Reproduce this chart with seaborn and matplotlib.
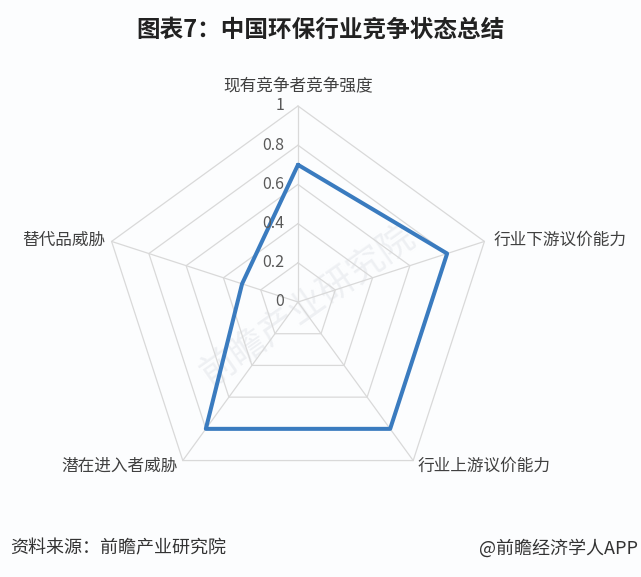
import numpy as np
import matplotlib
matplotlib.use("Agg")
import matplotlib.pyplot as plt
import seaborn as sns

# 数据
categories = ["现有竞争者竞争强度", "行业下游议价能力", "行业上游议价能力", "潜在进入者威胁", "替代品威胁"]
values = [0.7, 0.8, 0.8, 0.8, 0.3]
levels = [0.2, 0.4, 0.6, 0.8, 1.0]
tick_labels = ["0", "0.2", "0.4", "0.6", "0.8", "1"]
tick_values = [0, 0.2, 0.4, 0.6, 0.8, 1.0]

sns.set_theme(style="white")
plt.rcParams['font.family'] = ['Noto Sans CJK SC', 'DejaVu Sans']

W, H = 641, 577
cx, cy, R = 298, 302, 196  # 像素: 中心与半径
bg = "#fcfdfe"

fig = plt.figure(figsize=(W / 100, H / 100), dpi=100, facecolor=bg)
ax = fig.add_axes([0, 0, 1, 1])
ax.set_facecolor(bg)
ax.set_xlim(-cx / R, (W - cx) / R)
ax.set_ylim(-(H - cy) / R, cy / R)
ax.set_aspect("equal")
ax.axis("off")

n = len(categories)
ang = np.pi / 2 - np.arange(n) * 2 * np.pi / n
ux, uy = np.cos(ang), np.sin(ang)

# 网格
for lv in levels:
    ax.plot(np.append(ux, ux[0]) * lv, np.append(uy, uy[0]) * lv,
            color="#d9d9d9", lw=0.9, zorder=1)
for i in range(n):
    ax.plot([0, ux[i]], [0, uy[i]], color="#d9d9d9", lw=0.9, zorder=1)

# 水印
ax.text(0.05, -0.02, "前瞻产业研究院", fontsize=26, color="#eef0f3",
        rotation=35, ha="center", va="center", zorder=0)

# 数据线
v = np.array(values)
px = np.append(ux * v, ux[0] * v[0])
py = np.append(uy * v, uy[0] * v[0])
sns.lineplot(x=px, y=py, sort=False, estimator=None, ax=ax,
             color="#3a7bbf", lw=2.9, zorder=3)
ax.get_legend() and ax.get_legend().remove()

# 刻度标签
for t, lab in zip(tick_values, tick_labels):
    ax.text(-0.07, t, lab, ha="right", va="center", fontsize=11.5,
            color="#595959", zorder=4)

# 类别标签
lab_fs = 12
ax.text(0, 1.10, categories[0], ha="center", va="center", fontsize=lab_fs, color="#404040")
ax.text(1.0, uy[1] + 0.005, categories[1], ha="left", va="center", fontsize=lab_fs, color="#404040")
ax.text(0.612, uy[2] - 0.03, categories[2], ha="left", va="center", fontsize=lab_fs, color="#404040")
ax.text(-0.615, uy[3] - 0.03, categories[3], ha="right", va="center", fontsize=lab_fs, color="#404040")
ax.text(-0.985, uy[4] + 0.005, categories[4], ha="right", va="center", fontsize=lab_fs, color="#404040")

# 标题与脚注
fig.text(0.5, 1 - 30 / H, "图表7：中国环保行业竞争状态总结", ha="center", va="center",
         fontsize=17, fontweight="bold", color="#222222")
fig.text(10 / W, 1 - 548 / H, "资料来源：前瞻产业研究院", ha="left", va="center",
         fontsize=13, color="#333333")
fig.text(638 / W, 1 - 548 / H, "@前瞻经济学人APP", ha="right", va="center",
         fontsize=13, color="#333333")

fig.savefig("out.png", dpi=100, facecolor=bg)
